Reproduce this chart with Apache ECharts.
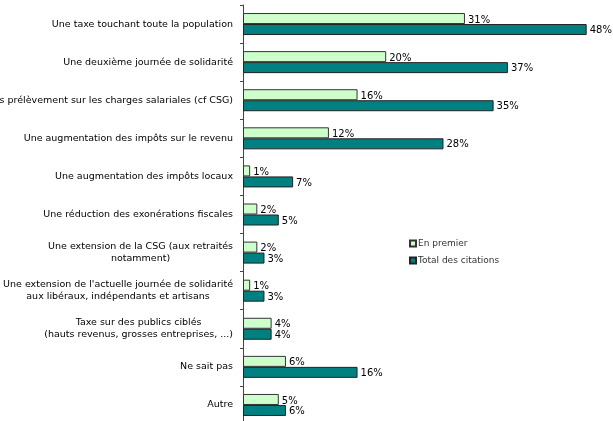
<!DOCTYPE html>
<html><head><meta charset="utf-8">
<script src="https://cdn.jsdelivr.net/npm/echarts@6/dist/echarts.min.js"></script>
<style>html,body{margin:0;padding:0;background:#fff}#c{width:613px;height:421px}</style>
</head><body><div id="c"></div>
<script>
const categories = [
  "Une taxe touchant toute la population",
  "Une deuxième journée de solidarité",
  "Des prélèvement sur les charges salariales (cf CSG)",
  "Une augmentation des impôts sur le revenu",
  "Une augmentation des impôts locaux",
  "Une réduction des exonérations fiscales",
  "Une extension de la CSG (aux retraités\nnotamment)",
  "Une extension de l'actuelle journée de solidarité\naux libéraux, indépendants et artisans",
  "Taxe sur des publics ciblés\n(hauts revenus, grosses entreprises, ...)",
  "Ne sait pas",
  "Autre"
];
const seriesNames = ["En premier", "Total des citations"];
const enPremier = [31, 20, 16, 12, 1, 2, 2, 1, 4, 6, 5];
const totalCitations = [48, 37, 35, 28, 7, 5, 3, 3, 4, 16, 6];

const chart = echarts.init(document.getElementById('c'), null, {renderer: 'canvas'});
const font = "DejaVu Sans, Verdana, sans-serif";
const labelCommon = {
  show: true, position: 'right', distance: 3,
  formatter: p => p.value + '%',
  color: '#000', fontFamily: font, fontSize: 10
};
chart.setOption({
  animation: false,
  backgroundColor: '#fff',
  grid: {left: 243, width: 358, top: 5, height: 419, containLabel: false, outerBoundsMode: 'none'},
  xAxis: {type: 'value', min: 0, max: 50, show: false},
  yAxis: {
    type: 'category', inverse: true, data: categories,
    axisLine: {show: true, lineStyle: {color: '#444', width: 1}},
    axisTick: {show: true, length: 3, lineStyle: {color: '#444'}},
    axisLabel: {
      margin: 10, fontFamily: font, fontSize: 9.5, color: '#000',
      formatter: v => v.split('\n').map(l => '{c|' + l + '}').join('\n'),
      rich: {c: {align: 'center', fontFamily: font, fontSize: 9.5, color: '#000', lineHeight: 11.5}}
    }
  },
  legend: {
    orient: 'vertical', left: 404, top: 234, itemWidth: 6, itemHeight: 6, itemGap: 8,
    icon: 'rect',
    textStyle: {fontFamily: font, fontSize: 9, color: '#333', padding: [0, 0, 0, -3]},
    data: seriesNames
  },
  series: [
    {name: seriesNames[0], type: 'bar', data: enPremier, barWidth: 11, barGap: '0%',
     itemStyle: {color: '#ccffcc', borderColor: '#333', borderWidth: 1},
     label: Object.assign({}, labelCommon, {offset: [0, 1.5]})},
    {name: seriesNames[1], type: 'bar', data: totalCitations, barWidth: 11, barGap: '0%',
     itemStyle: {color: '#008080', borderColor: '#222', borderWidth: 1},
     label: Object.assign({}, labelCommon, {offset: [0, 1]})}
  ]
});
</script></body></html>
